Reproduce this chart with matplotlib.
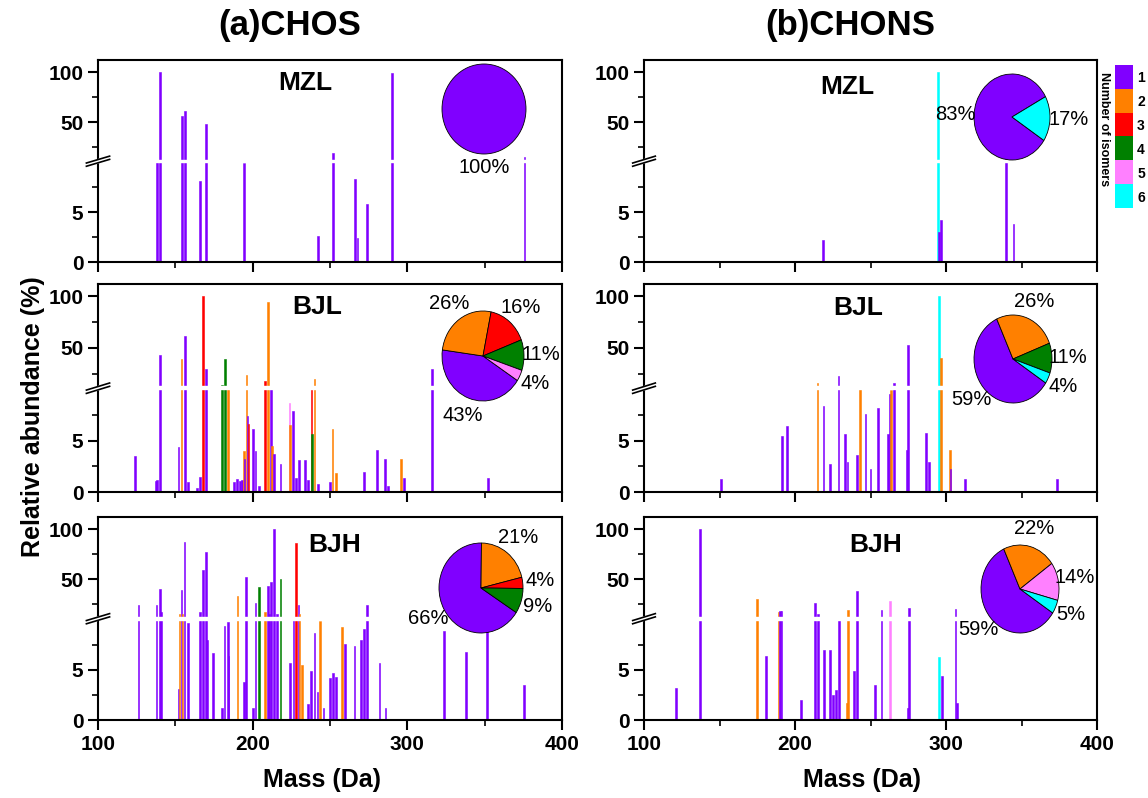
import numpy as np
import matplotlib.pyplot as plt
from matplotlib.colors import ListedColormap
from matplotlib.ticker import FormatStrFormatter

plt.rcParams['font.family'] = ['Liberation Sans', 'DejaVu Sans']
plt.rcParams['font.weight'] = 'bold'
plt.rcParams['axes.linewidth'] = 1.5

# colours for number of isomers 1..6
iso_colors = ['#8000FF', '#FF8000', '#FF0000', '#008000', '#FF80FF', '#00FFFF']
iso_labels = ['1', '2', '3', '4', '5', '6']

# ---------------- (a) CHOS ----------------
chos_mzl_mass = [138, 140.3, 154.4, 156.3, 165.9, 170, 194.2, 242.1, 252.1, 266, 267.8, 273.8, 290, 375.7]
chos_mzl_abund = [12, 100, 56, 61.5, 8.1, 48.4, 9.9, 2.6, 18.9, 8.3, 2.4, 5.8, 99, 14.6]
chos_mzl_iso = [1] * 14

chos_bjl_mass = [124.1, 137.6, 138.1, 139.9, 152.1, 154, 156.2, 158, 164, 165.9, 168.1, 170, 180.2, 181.9,
                 184, 187.9, 189.9, 191.8, 193.3, 194.2, 194.7, 196.1, 196.6, 197.3, 200, 201.9, 204.1,
                 208, 209.9, 211.9, 212.5, 214, 217.9, 223.9, 224.3, 226, 228, 229.9, 233.8, 235.9, 238,
                 238.5, 240, 242.2, 250, 251.7, 254, 272, 280.2, 285.7, 287.7, 295.9, 298, 315.9, 352.3]
chos_bjl_abund = [3.5, 1.1, 1.2, 42.6, 4.4, 39.4, 61.9, 1.0, 0.4, 1.5, 100, 29.7, 13.5, 39.4,
                  10.5, 1.0, 1.3, 1.1, 1.2, 4.0, 3.2, 23.2, 7.4, 6.6, 6.1, 4.0, 0.6,
                  17.4, 94.2, 10.5, 4.5, 3.7, 2.7, 8.6, 6.5, 7.9, 1.4, 3.1, 3.1, 1.2, 10.5,
                  5.6, 19.4, 0.8, 1.0, 6.1, 1.8, 1.9, 4.1, 3.2, 0.6, 3.2, 1.4, 29, 1.4]
chos_bjl_iso = [1, 1, 1, 1, 1, 2, 1, 1, 1, 1, 3, 1, 4, 4,
                2, 1, 1, 1, 1, 2, 1, 2, 1, 3, 1, 1, 1,
                3, 2, 1, 2, 1, 1, 5, 2, 1, 1, 1, 1, 1, 3,
                4, 2, 1, 1, 2, 2, 1, 1, 1, 1, 2, 1, 1, 1]

chos_bjh_mass = [126.2, 137.9, 139.9, 140.7, 152, 152.6, 153.9, 154.6, 156, 158.2, 165.9, 167.8, 169.9,
                 170.5, 174.2, 180.1, 181.8, 184, 184.4, 190.2, 194.2, 195.9, 200.4, 201.9, 204, 207.9,
                 209.8, 210.4, 211.9, 213.6, 215.7, 218, 224, 226.4, 227.9, 229.6, 230.2, 231.7, 236,
                 237.9, 240, 241.9, 243.7, 245.8, 250.1, 252, 254.1, 257.7, 259.8, 265.8, 269.9, 271.8,
                 273.9, 282, 285.9, 323.8, 337.9, 351.7, 375.6]
chos_bjh_abund = [24.5, 24.5, 40, 17.2, 3.1, 15, 39.4, 15, 87.4, 9.7, 17.9, 59.3, 77.5,
                  8.0, 6.7, 1.2, 9.4, 9.8, 6.4, 33.8, 3.8, 52.6, 1.2, 26.8, 42.7, 17.9,
                  43.7, 15, 47, 100, 15.2, 50, 5.7, 10.3, 85.8, 24.5, 15, 5.5, 1.6,
                  4.9, 8.7, 2.8, 9.9, 1.2, 4.2, 4.7, 4.3, 9.3, 7.6, 7.4, 8.0, 9.1,
                  24.5, 5.7, 1.2, 8.9, 6.8, 30, 3.5]
chos_bjh_iso = [1, 1, 1, 1, 1, 2, 1, 2, 1, 1, 1, 1, 1,
                1, 1, 1, 1, 1, 1, 2, 1, 1, 1, 1, 4, 2,
                1, 1, 1, 1, 1, 4, 1, 1, 3, 1, 2, 2, 1,
                1, 1, 1, 2, 1, 1, 1, 1, 2, 1, 1, 1, 1,
                1, 1, 1, 1, 1, 1, 1]

# ---------------- (b) CHONS ----------------
chons_mzl_mass = [218.6, 294.9, 295.2, 296.9, 339.7, 344.8]
chons_mzl_abund = [2.2, 100, 3.0, 4.25, 30, 3.8]
chons_mzl_iso = [1, 6, 1, 1, 1, 1]

chons_bjl_mass = [151.2, 191.2, 194.9, 214.9, 218.9, 223.1, 228.8, 233, 234.7, 241.1, 242.9, 246.8, 250.1,
                  255, 261.8, 263.1, 263.7, 265.7, 274.3, 274.7, 286.8, 288.8, 295.2, 296.7, 302.6,
                  302.9, 312.7, 373.6]
chons_bjl_abund = [1.3, 5.4, 6.4, 16.1, 8.4, 2.7, 22.7, 5.6, 2.9, 3.6, 12.8, 7.6, 2.2,
                   8.2, 5.6, 9.5, 9.9, 16.1, 4.1, 53, 5.7, 2.9, 100, 39.8, 4.1,
                   2.2, 1.3, 1.3]
chons_bjl_iso = [1, 1, 1, 2, 1, 1, 1, 1, 1, 1, 2, 1, 1,
                 1, 1, 1, 2, 1, 1, 1, 1, 1, 6, 2, 2,
                 1, 1, 1]

chons_bjh_mass = [121.2, 137.1, 174.9, 181, 189.1, 190.2, 191, 204.1, 213.1, 215.3, 219.2, 223.1, 225.1,
                  227.1, 229, 234.3, 234.9, 239.1, 241, 253.1, 257.2, 263.1, 274.9, 275.3, 295.4,
                  297.2, 306.3, 307.4]
chons_bjh_abund = [3.2, 100, 30.5, 6.4, 17.1, 18.8, 18.8, 2.0, 26.2, 15.4, 7.0, 7.0, 2.5,
                   3.0, 12.8, 1.7, 19.5, 4.9, 37.9, 3.5, 19.5, 28.9, 1.2, 21.5, 6.3,
                   4.4, 20.2, 1.7]
chons_bjh_iso = [1, 1, 2, 1, 2, 1, 1, 1, 1, 1, 1, 1, 1,
                 1, 1, 2, 2, 1, 1, 1, 1, 5, 1, 1, 6,
                 1, 1, 1]

# pie charts: share (%) and the isomer class of each slice
chos_mzl_pie, chos_mzl_pie_iso = [100], [1]
chos_bjl_pie, chos_bjl_pie_iso = [43, 26, 16, 11, 4], [1, 2, 3, 4, 5]
chos_bjh_pie, chos_bjh_pie_iso = [66, 21, 4, 9], [1, 2, 3, 4]
chons_mzl_pie, chons_mzl_pie_iso = [83, 17], [1, 6]
chons_bjl_pie, chons_bjl_pie_iso = [59, 26, 11, 4], [1, 2, 4, 6]
chons_bjh_pie, chons_bjh_pie_iso = [59, 22, 14, 5], [1, 2, 5, 6]

sites = ['MZL', 'BJL', 'BJH']
panels = [
    [(chos_mzl_mass, chos_mzl_abund, chos_mzl_iso, chos_mzl_pie, chos_mzl_pie_iso),
     (chos_bjl_mass, chos_bjl_abund, chos_bjl_iso, chos_bjl_pie, chos_bjl_pie_iso),
     (chos_bjh_mass, chos_bjh_abund, chos_bjh_iso, chos_bjh_pie, chos_bjh_pie_iso)],
    [(chons_mzl_mass, chons_mzl_abund, chons_mzl_iso, chons_mzl_pie, chons_mzl_pie_iso),
     (chons_bjl_mass, chons_bjl_abund, chons_bjl_iso, chons_bjl_pie, chons_bjl_pie_iso),
     (chons_bjh_mass, chons_bjh_abund, chons_bjh_iso, chons_bjh_pie, chons_bjh_pie_iso)],
]


# broken y axis: 0-10 stretched, 10-112 compressed 10x
def fwd(y):
    y = np.asarray(y, dtype=float)
    return np.where(y <= 10, y, 10 + (y - 10) / 10)


def inv(t):
    t = np.asarray(t, dtype=float)
    return np.where(t <= 10, t, 10 + (t - 10) * 10)


W, H = 1148, 798
fig = plt.figure(figsize=(W / 100, H / 100), dpi=100)

col_x = [(98, 562), (644, 1097)]
row_y = [(60, 262), (284, 492), (517, 720)]
# pie centre and radii in pixels
pie_box = [[(484, 109, 42, 45), (483, 356, 41, 45), (481, 588, 42, 45)],
           [(1012, 117, 38, 43), (1013, 359, 39, 44), (1020, 589, 39, 44)]]
pie_start = [[90, -33, -33], [-33, -33, -33]]
pie_dist = [[1.3, 1.42, 1.42], [1.5, 1.42, 1.42]]
site_xy = [[(305, 83), (317, 307), (335, 545)],
           [(847, 87), (858, 308), (876, 545)]]

ymax = 112
for c in range(2):
    for r in range(3):
        mass, abund, iso, pie_v, pie_i = panels[c][r]
        x0, x1 = col_x[c]
        y0, y1 = row_y[r]
        ax = fig.add_axes([x0 / W, 1 - y1 / H, (x1 - x0) / W, (y1 - y0) / H])
        cols = [iso_colors[i - 1] for i in iso]
        ax.bar(mass, abund, width=1.1, color=cols, edgecolor=cols, linewidth=0.4)
        ax.set_yscale('function', functions=(fwd, inv))
        ax.set_ylim(0, ymax)
        ax.set_xlim(100, 400)
        ax.set_yticks([0, 5, 50, 100])
        ax.set_yticks([2.5, 7.5, 25, 75], minor=True)
        ax.yaxis.set_major_formatter(FormatStrFormatter('%g'))
        ax.set_xticks([100, 200, 300, 400])
        ax.set_xticks([150, 250, 350], minor=True)
        ax.tick_params(which='major', direction='out', length=7, width=1.5, labelsize=15)
        ax.tick_params(which='minor', direction='out', length=4, width=1.2)
        if r < 2:
            ax.tick_params(axis='x', labelbottom=False)

        # break in the axis
        ax.axhspan(10, 12.5, color='white', zorder=2)
        yb = fwd(10.8) / fwd(ymax)
        ax.fill([-0.025, 0.025, 0.025, -0.025],
                [yb - 0.025, yb + 0.009, yb + 0.025, yb - 0.009],
                color='white', transform=ax.transAxes, clip_on=False, zorder=3)
        for off in (-0.008, 0.008):
            ax.plot([-0.025, 0.025], [yb + off - 0.017, yb + off + 0.017], color='black',
                    lw=1.2, transform=ax.transAxes, clip_on=False, zorder=4)

        sx, sy = site_xy[c][r]
        fig.text(sx / W, 1 - sy / H, sites[r], ha='center', va='center', fontsize=19, fontweight='bold')

        cx, cy, rx, ry = pie_box[c][r]
        pax = fig.add_axes([(cx - rx) / W, 1 - (cy + ry) / H, 2 * rx / W, 2 * ry / H])
        pax.pie(pie_v, colors=[iso_colors[i - 1] for i in pie_i], startangle=pie_start[c][r],
                counterclock=False, autopct='%.0f%%', pctdistance=pie_dist[c][r],
                wedgeprops=dict(edgecolor='black', linewidth=0.6),
                textprops=dict(fontsize=14.5, fontweight='normal'))
        pax.set_aspect('auto')
        pax.set_xlim(-1, 1)
        pax.set_ylim(-1, 1)

fig.text(290 / W, 1 - 25 / H, '(a)CHOS', ha='center', va='center', fontsize=25, fontweight='bold')
fig.text(850 / W, 1 - 25 / H, '(b)CHONS', ha='center', va='center', fontsize=25, fontweight='bold')
fig.text(33 / W, 1 - 417 / H, 'Relative abundance (%)', rotation=90, ha='center', va='center',
         fontsize=18, fontweight='bold')
fig.text(322 / W, 1 - 780 / H, 'Mass (Da)', ha='center', va='center', fontsize=18, fontweight='bold')
fig.text(862 / W, 1 - 780 / H, 'Mass (Da)', ha='center', va='center', fontsize=18, fontweight='bold')

# isomer colour key
lax = fig.add_axes([1115 / W, 1 - 208 / H, 18 / W, 143 / H])
lax.imshow(np.arange(6).reshape(-1, 1), cmap=ListedColormap(iso_colors), aspect='auto')
lax.set_xticks([])
lax.set_yticks(range(6))
lax.set_yticklabels(iso_labels)
lax.yaxis.tick_right()
lax.tick_params(length=0, labelsize=10, pad=3)
for s in lax.spines.values():
    s.set_visible(False)
fig.text(1104 / W, 1 - 129 / H, 'Number of isomers', rotation=-90, ha='center', va='center',
         fontsize=9, fontweight='bold')

fig.savefig('out.png', dpi=100)
